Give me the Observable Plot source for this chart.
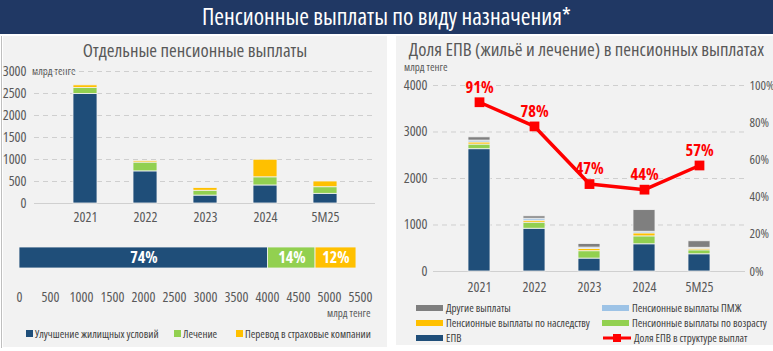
<!DOCTYPE html>
<html>
<head>
<meta charset="utf-8">
<script src="https://cdn.jsdelivr.net/npm/d3@7"></script>
<script src="https://cdn.jsdelivr.net/npm/@observablehq/plot@0.6"></script>
<style>
  body { margin:0; width:773px; height:351px; position:relative; background:#fff; overflow:hidden;
         font-family:"Open Sans",sans-serif; font-stretch:condensed; }
  svg text { font-stretch:condensed; }
  .abs { position:absolute; }
  #header { left:0; top:0; width:773px; height:34px; background:#203864; color:#fff; font-size:23.5px;
            text-align:center; line-height:32px; }
  .panel { background:#f2f2f2; }
  .ptitle { color:#595959; font-size:18.7px; line-height:20px; text-align:center; white-space:nowrap; }
  .unit { color:#595959; font-size:11px; line-height:12px; white-space:nowrap; }
  .leg { color:#404040; white-space:nowrap; display:flex; align-items:center; }
  .sw { display:inline-block; margin-right:3px; }
</style>
</head>
<body>
<div id="header" class="abs">Пенсионные выплаты по виду назначения*</div>
<div class="abs" style="left:1px;top:36px;width:1px;height:312px;background:#bfbfbf"></div>
<div class="abs panel" style="left:3px;top:36px;width:384px;height:311px"></div>
<div class="abs panel" style="left:396px;top:36px;width:377px;height:309px"></div>
<div class="abs ptitle" style="left:3px;top:40px;width:384px">Отдельные пенсионные выплаты</div>
<div class="abs ptitle" style="left:404px;top:39px;width:365px">Доля ЕПВ (жильё и лечение) в пенсионных выплатах</div>
<div class="abs unit" style="left:32px;top:65px">млрд тенге</div>
<div class="abs unit" style="left:404px;top:61px">млрд тенге</div>
<div class="abs unit" style="left:327px;top:307px">млрд тенге</div>
<div id="leftChart" class="abs" style="left:0;top:60px"></div>
<div id="hbar" class="abs" style="left:0;top:235px"></div>
<div id="rightChart" class="abs" style="left:390px;top:60px"></div>
<div id="leftLegend" class="abs" style="left:0;top:326px;width:388px;height:16px"></div>
<div id="rightLegend" class="abs" style="left:416px;top:300px;width:357px"></div>
<script>
// ---------- data ----------
const years = ["2021", "2022", "2023", "2024", "5M25"];

// left chart (млрд тенге)
const leftCats = ["Улучшение жилищных условий", "Лечение", "Перевод в страховые компании"];
const housing   = [2490, 730, 180, 410, 220];
const treatment = [135, 200, 110, 185, 150];
const insurance = [60, 30, 60, 400, 130];
const leftColors = ["#1f4e79", "#92d050", "#ffc000"];

// horizontal total bar (млрд тенге)
const totalValues = [4010, 765, 660];
const hTicks = [0, 500, 1000, 1500, 2000, 2500, 3000, 3500, 4000, 4500, 5000, 5500];

// right chart (млрд тенге)
const rightCats = ["ЕПВ", "Пенсионные выплаты по возрасту", "Пенсионные выплаты по наследству",
                   "Пенсионные выплаты ПМЖ", "Другие выплаты"];
const epv     = [2630, 920, 278, 585, 370];
const ageP    = [100, 130, 158, 170, 85];
const inherit = [45, 43, 50, 65, 35];
const pmzh    = [40, 43, 28, 35, 20];
const other   = [70, 50, 76, 465, 140];
const rightColors = ["#1f4e79", "#92d050", "#ffc000", "#9dc3e6", "#7f7f7f"];
const shareName = "Доля ЕПВ в структуре выплат";
const epvShare = [91, 78, 47, 44, 57];
const pctTicks = [0, 20, 40, 60, 80, 100];

// ---------- helpers ----------
const baseStyle = {fontFamily: '"Open Sans",sans-serif', fontSize: "13px", color: "#595959", background: "transparent", overflow: "visible"};
const plain = d => String(d);

// ---------- left chart ----------
const leftSeries = [housing, treatment, insurance];
const leftData = [];
leftCats.forEach((c, i) => years.forEach((y, j) => leftData.push({year: y, cat: c, value: leftSeries[i][j]})));

document.getElementById("leftChart").append(Plot.plot({
  width: 388, height: 170, marginTop: 11, marginBottom: 27, marginLeft: 34, marginRight: 13,
  style: baseStyle,
  x: {domain: years, padding: 0.6, label: null},
  y: {domain: [0, 3000], label: null},
  color: {domain: leftCats, range: leftColors},
  marks: [
    Plot.gridY([500, 1000, 1500, 2000, 2500, 3000], {stroke: "#cfcfcf", strokeOpacity: 1, strokeDasharray: "5,4"}),
    Plot.ruleY([0], {stroke: "#d0d0d0"}),
    Plot.barY(leftData, {x: "year", y: "value", fill: "cat", stroke: "#f2f2f2", strokeWidth: 0.8}),
    Plot.axisY({ticks: [0, 500, 1000, 1500, 2000, 2500, 3000], tickFormat: plain, tickSize: 0, tickPadding: 8, label: null, fontSize: 14}),
    Plot.axisX({tickSize: 0, tickPadding: 9, label: null, fontSize: 14})
  ]
}));

// ---------- horizontal total bar ----------
const totalSum = d3.sum(totalValues);
const totalData = leftCats.map((c, i) => ({cat: c, value: totalValues[i], pct: Math.round(totalValues[i] / totalSum * 100) + "%"}));

document.getElementById("hbar").append(Plot.plot({
  width: 388, height: 80, marginTop: 12, marginBottom: 47, marginLeft: 19, marginRight: 28,
  style: baseStyle,
  x: {domain: [0, 5500], label: null},
  y: {domain: ["all"], padding: 0, axis: null},
  color: {domain: leftCats, range: leftColors},
  marks: [
    Plot.barX(totalData, Plot.stackX({y: () => "all", x: "value", fill: "cat", stroke: "#f2f2f2", strokeWidth: 0.8})),
    Plot.text(totalData, Plot.stackX({y: () => "all", x: "value", text: "pct", fill: "white", fontWeight: "bold", fontSize: 16})),
    Plot.axisX({ticks: hTicks, tickFormat: plain, tickSize: 0, tickPadding: 24, label: null, fontSize: 14})
  ]
}));

// ---------- right chart ----------
const rightSeries = [epv, ageP, inherit, pmzh, other];
const rightData = [];
rightCats.forEach((c, i) => years.forEach((y, j) => rightData.push({year: y, cat: c, value: rightSeries[i][j]})));
const shareData = years.map((y, j) => ({year: y, share: epvShare[j]}));

document.getElementById("rightChart").append(Plot.plot({
  width: 383, height: 236, marginTop: 25, marginBottom: 25, marginLeft: 43, marginRight: 28,
  style: baseStyle,
  x: {domain: years, padding: 0.6, label: null},
  y: {domain: [0, 4000], label: null},
  color: {domain: rightCats, range: rightColors},
  marks: [
    Plot.gridY([1000, 2000, 3000, 4000], {stroke: "#cfcfcf", strokeOpacity: 1, strokeDasharray: "5,4"}),
    Plot.ruleY([0], {stroke: "#d0d0d0"}),
    Plot.barY(rightData, {x: "year", y: "value", fill: "cat", stroke: "#f2f2f2", strokeWidth: 0.8}),
    Plot.line(shareData, {x: "year", y: d => d.share * 40, stroke: "#ff0000", strokeWidth: 3.5}),
    Plot.dot(shareData, {x: "year", y: d => d.share * 40, symbol: "square", r: 5.5, fill: "#ff0000"}),
    Plot.text(shareData, {x: "year", y: d => d.share * 40, text: d => d.share + "%", dy: -15, fill: "#ff0000", fontWeight: "bold", fontSize: 16.5}),
    Plot.axisY({ticks: [0, 1000, 2000, 3000, 4000], tickFormat: plain, tickSize: 0, tickPadding: 6, label: null, fontSize: 14}),
    Plot.axisY({anchor: "right", ticks: pctTicks.map(p => p * 40), tickFormat: d => (d / 40) + "%", tickSize: 0, tickPadding: 4, label: null, fontSize: 13}),
    Plot.axisX({tickSize: 0, tickPadding: 11, label: null, fontSize: 14})
  ]
}));

// ---------- legends ----------
const ll = document.getElementById("leftLegend");
const leftLegX = [26, 174, 236];
leftCats.forEach((c, i) => {
  const d = document.createElement("div");
  d.className = "leg abs";
  d.style.left = leftLegX[i] + "px";
  d.style.top = "0px";
  d.style.fontSize = "11px";
  d.innerHTML = `<span class="sw" style="width:7px;height:7px;background:${leftColors[i]};margin-right:2px"></span>${c}`;
  ll.append(d);
});

const rl = document.getElementById("rightLegend");
const legendOrder = [
  ["Другие выплаты", "#7f7f7f"], ["Пенсионные выплаты ПМЖ", "#9dc3e6"],
  ["Пенсионные выплаты по наследству", "#ffc000"], ["Пенсионные выплаты по возрасту", "#92d050"],
  ["ЕПВ", "#1f4e79"], [shareName, "line"]
];
legendOrder.forEach(([name, col], k) => {
  const d = document.createElement("div");
  d.className = "leg abs";
  d.style.fontSize = "11px";
  d.style.left = (k % 2 ? 186 : 0) + "px";
  d.style.top = (Math.floor(k / 2) * 15) + "px";
  if (col === "line") {
    d.innerHTML = `<svg width="30" height="10" style="margin-right:2px"><line x1="1" x2="29" y1="5" y2="5" stroke="#ff0000" stroke-width="3"/><rect x="11" y="1" width="8" height="8" fill="#ff0000"/></svg>${name}`;
  } else {
    d.innerHTML = `<span class="sw" style="width:27px;height:6px;background:${col}"></span>${name}`;
  }
  rl.append(d);
});
</script>
</body>
</html>
